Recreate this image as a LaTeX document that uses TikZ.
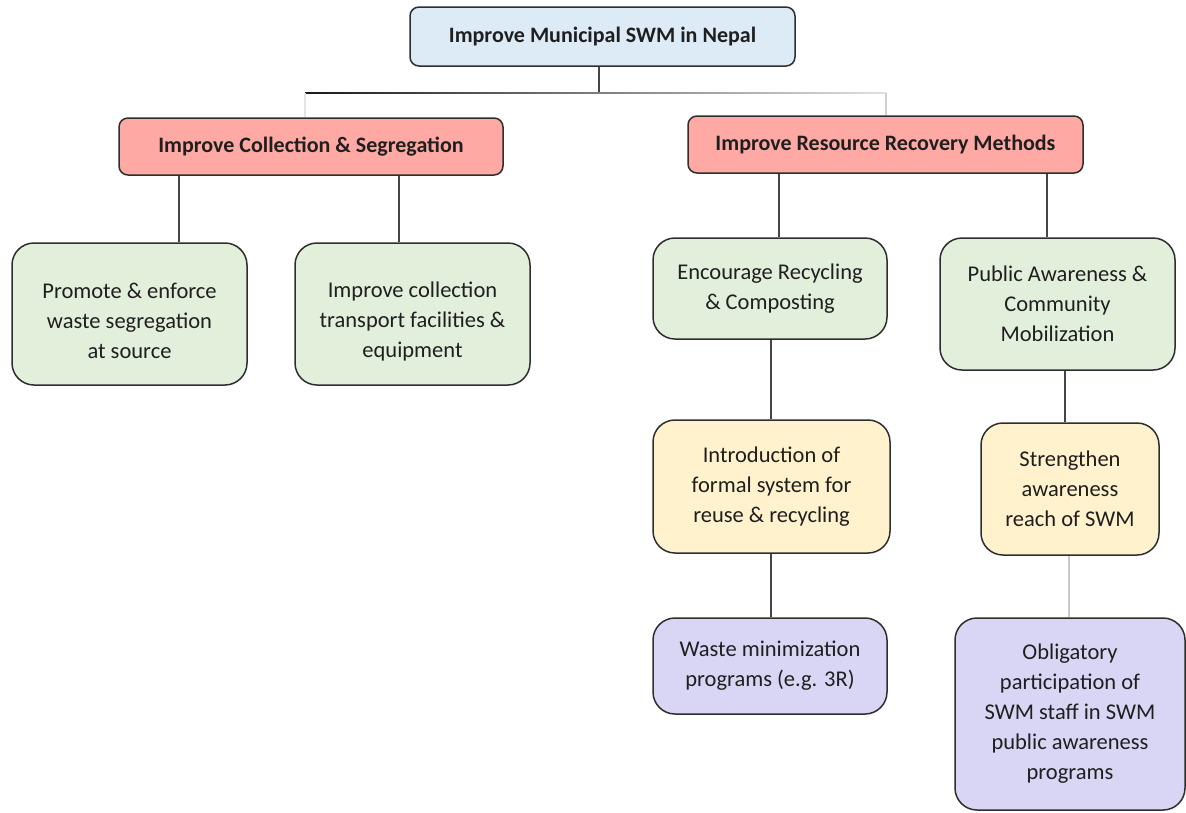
\documentclass[tikz,border=0pt]{standalone}
\usepackage{fontspec}
\setmainfont{Carlito}
\usetikzlibrary{calc}

\definecolor{edgecol}{HTML}{2E2E2E}
\definecolor{linkcol}{HTML}{454545}
\definecolor{faintcol}{HTML}{C9C9C9}
\definecolor{goalfill}{HTML}{DDEBF7}
\definecolor{aimfill}{HTML}{FFA9A4}
\definecolor{taskfill}{HTML}{E2EFDA}
\definecolor{stepfill}{HTML}{FFF2CC}
\definecolor{actfill}{HTML}{D8D6F4}

\tikzset{
  boxbase/.style={draw=edgecol, line width=1.5pt, inner sep=0pt, align=center,
    text=black!88, font=\fontsize{22.5}{30}\selectfont},
  headbox/.style={boxbase, rounded corners=9pt, font=\bfseries\fontsize{22}{30}\selectfont},
  leafbox/.style={boxbase, rounded corners=22pt},
  sized/.style 2 args={minimum width=#1pt, minimum height=#2pt},
  link/.style={draw=linkcol, line width=1.2pt},
  palelink/.style={draw=faintcol, line width=2pt},
}

\begin{document}
\begin{tikzpicture}[x=1pt,y=-1pt]
  \useasboundingbox (0,0) rectangle (1186,812);

  % goal and the two main aims
  \node[headbox, fill=goalfill, sized={385}{59}] (goal) at (602.5,36.5) {Improve Municipal SWM in Nepal};
  \node[headbox, fill=aimfill, sized={384}{57}] (aimL) at (311,146.5) {Improve Collection \& Segregation};
  \node[headbox, fill=aimfill, sized={395}{57}] (aimR) at (885.5,144.5) {Improve Resource Recovery Methods};

  % second level
  \node[leafbox, fill=taskfill, sized={235}{142}] (segr) at (129.5,314) {\rule{0pt}{30pt}Promote \& enforce\\waste segregation\\at source};
  \node[leafbox, fill=taskfill, sized={235}{142}] (trans) at (412.5,314) {\rule{0pt}{30pt}Improve collection\\transport facilities \&\\equipment};
  \node[leafbox, fill=taskfill, sized={234}{101}] (recyc) at (770,288.5) {Encourage Recycling\\\& Composting};
  \node[leafbox, fill=taskfill, sized={235}{132}] (aware) at (1057.5,304) {Public Awareness \&\\Community\\Mobilization};

  % third level
  \node[leafbox, fill=stepfill, sized={237}{133}] (formal) at (771.5,486.5) {Introduction of\\formal system for\\reuse \& recycling};
  \node[leafbox, fill=stepfill, sized={178}{132}] (reach) at (1070,489) {Strengthen\\awareness\\reach of SWM};

  % fourth level
  \node[leafbox, fill=actfill, sized={234}{96}] (minim) at (770,666) {Waste minimization\\programs (e.g. 3R)};
  \node[leafbox, fill=actfill, sized={230}{192}] (oblig) at (1070,714) {Obligatory\\participation of\\SWM staff in SWM\\public awareness\\programs};

  % bus below the goal, fading towards the right
  \coordinate (busL) at (305,93);
  \coordinate (busM) at (599,93);
  \coordinate (busR) at (886,93);
  \draw[link] (busM |- goal.south) -- (busM);
  \shade[left color=black!90, right color=black!12] ($(busL)+(0,-0.9)$) rectangle ($(busR)+(0,0.9)$);
  \draw[draw=black!10, line width=1.2pt] (busL) -- (busL |- aimL.north);
  \draw[draw=black!18, line width=1.2pt] (busR) -- (busR |- aimR.north);

  % drops to the second level
  \coordinate (dA) at (179,0);
  \coordinate (dB) at (399,0);
  \coordinate (dC) at (779,0);
  \coordinate (dD) at (1047,0);
  \draw[link] (dA |- aimL.south) -- (dA |- segr.north);
  \draw[link] (dB |- aimL.south) -- (dB |- trans.north);
  \draw[link] (dC |- aimR.south) -- (dC |- recyc.north);
  \draw[link] (dD |- aimR.south) -- (dD |- aware.north);

  % lower drops
  \coordinate (dE) at (771,0);
  \coordinate (dF) at (1065,0);
  \coordinate (dG) at (1069,0);
  \draw[link] (dE |- recyc.south) -- (dE |- formal.north);
  \draw[link] (dF |- aware.south) -- (dF |- reach.north);
  \draw[link] (dE |- formal.south) -- (dE |- minim.north);
  \draw[palelink] (dG |- reach.south) -- (dG |- oblig.north);
\end{tikzpicture}
\end{document}
